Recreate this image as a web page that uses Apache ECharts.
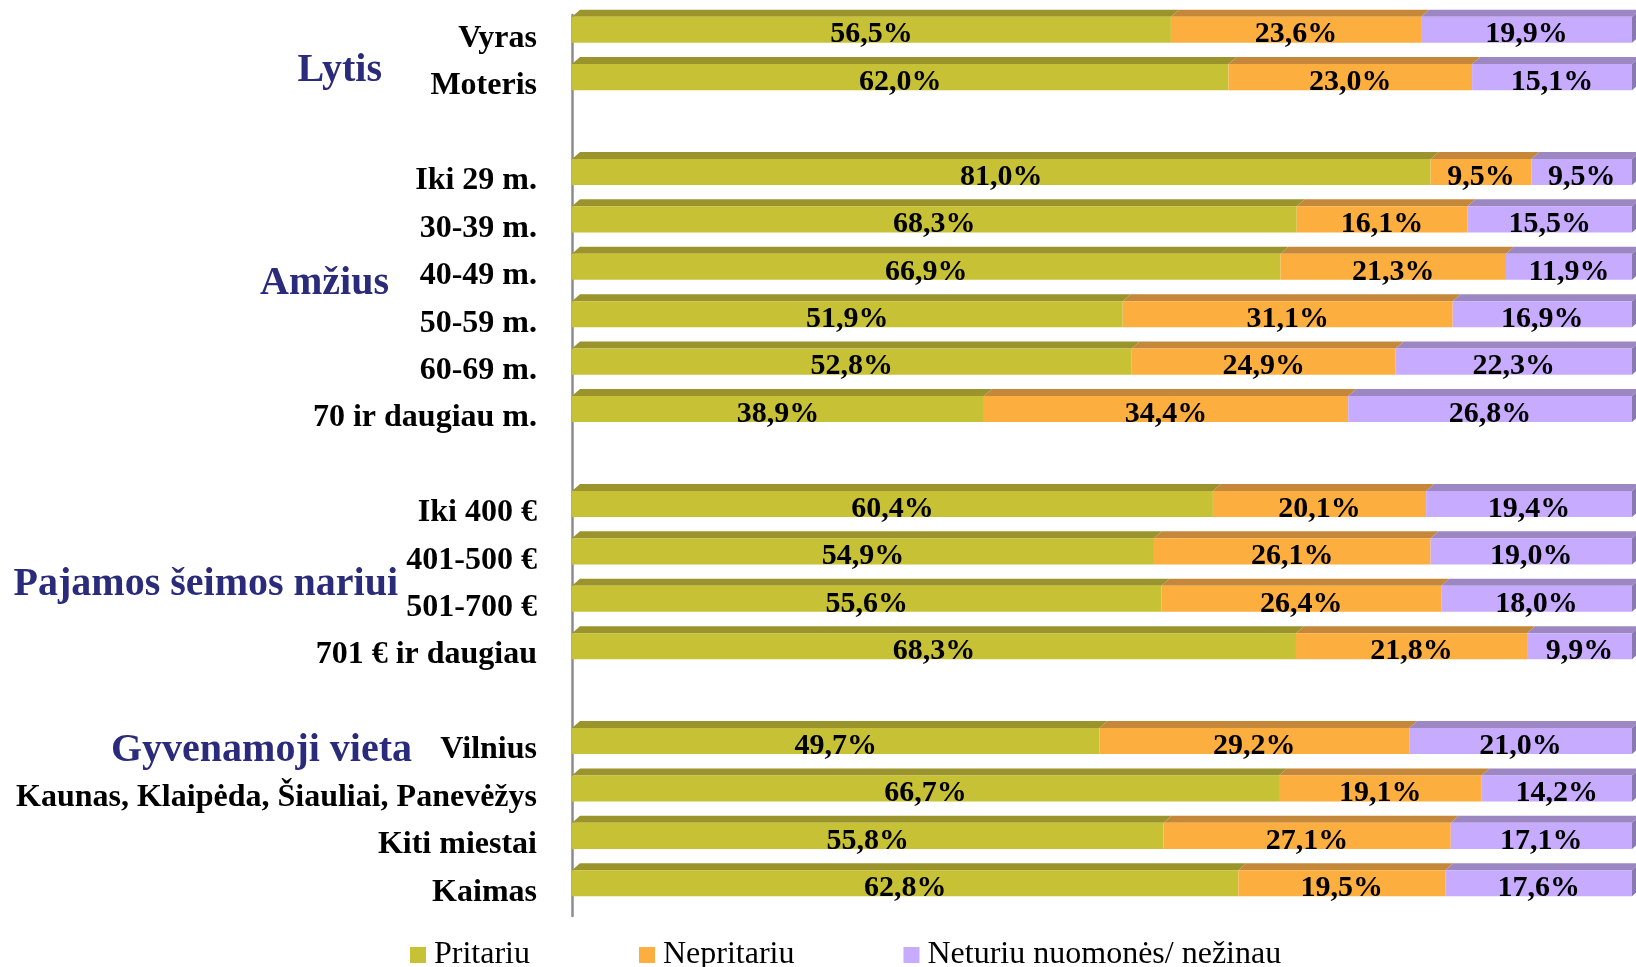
<!DOCTYPE html>
<html>
<head>
<meta charset="utf-8">
<script src="https://cdn.jsdelivr.net/npm/echarts@6/dist/echarts.min.js"></script>
<style>
  html, body { margin: 0; padding: 0; background: #fff; }
  #chart { width: 1636px; height: 967px; }
</style>
</head>
<body>
<div id="chart"></div>
<script>
'use strict';

// empty strings are the spacer rows between the groups
const categories = [
    'Vyras', 'Moteris', '',
    'Iki 29 m.', '30-39 m.', '40-49 m.', '50-59 m.', '60-69 m.', '70 ir daugiau m.', '',
    'Iki 400 €', '401-500 €', '501-700 €', '701 € ir daugiau', '',
    'Vilnius', 'Kaunas, Klaipėda, Šiauliai, Panevėžys', 'Kiti miestai', 'Kaimas',
];
const pritariu   = [56.5, 62.0, null, 81.0, 68.3, 66.9, 51.9, 52.8, 38.9, null, 60.4, 54.9, 55.6, 68.3, null, 49.7, 66.7, 55.8, 62.8];
const nepritariu = [23.6, 23.0, null,  9.5, 16.1, 21.3, 31.1, 24.9, 34.4, null, 20.1, 26.1, 26.4, 21.8, null, 29.2, 19.1, 27.1, 19.5];
const neturiu    = [19.9, 15.1, null,  9.5, 15.5, 11.9, 16.9, 22.3, 26.8, null, 19.4, 19.0, 18.0,  9.9, null, 21.0, 14.2, 17.1, 17.6];

const seriesNames = ['Pritariu', 'Nepritariu', 'Neturiu nuomonės/ nežinau'];
const groups = [
    { text: 'Lytis', x: 382, y: 71 },
    { text: 'Amžius', x: 389, y: 284 },
    { text: 'Pajamos šeimos nariui', x: 398, y: 585 },
    { text: 'Gyvenamoji vieta', x: 412, y: 751 },
];

const faces = [
    { front: '#c7c135', top: '#9b942c', side: '#8a8426' },
    { front: '#fcae3e', top: '#c5883a', side: '#b07a30' },
    { front: '#c7abfe', top: '#9c87c2', side: '#8a78b0' },
];
const DX = 8, DY = 7;
const LIFT = 9;   // bars sit a bit above the label line (3D floor)
const SERIF = '"Liberation Serif", "Times New Roman", serif';

const all = [pritariu, nepritariu, neturiu];

// 100% stacked: each row is scaled to its own total
function buildData(k) {
    const out = [];
    categories.forEach((c, i) => {
        if (all[k][i] == null) return;
        const total = all[0][i] + all[1][i] + all[2][i];
        let start = 0;
        for (let j = 0; j < k; j++) start += all[j][i];
        out.push([i, start / total * 100, (start + all[k][i]) / total * 100, all[k][i]]);
    });
    return out;
}

function fmt(v) {
    return v.toFixed(1).replace('.', ',') + '%';
}

function makeRender(k) {
    const c = faces[k];
    const last = k === all.length - 1;
    return function (params, api) {
        const cat = api.value(0);
        const p0 = api.coord([api.value(1), cat]);
        const p1 = api.coord([api.value(2), cat]);
        const h = api.size([0, 1])[1] * 0.55;
        const cy = p0[1] - LIFT;
        const y = cy - h / 2;
        const children = [{
            type: 'polygon',
            shape: { points: [[p0[0], y], [p1[0], y], [p1[0] + DX, y - DY], [p0[0] + DX, y - DY]] },
            style: { fill: c.top },
        }, {
            type: 'rect',
            shape: { x: p0[0], y: y, width: p1[0] - p0[0], height: h },
            style: { fill: c.front },
        }];
        if (last) {
            children.push({
                type: 'polygon',
                shape: { points: [[p1[0], y], [p1[0] + DX, y - DY], [p1[0] + DX, y - DY + h], [p1[0], y + h]] },
                style: { fill: c.side },
            });
        }
        children.push({
            type: 'text',
            style: {
                text: fmt(api.value(3)),
                x: (p0[0] + p1[0]) / 2,
                y: cy + 5,
                align: 'center',
                verticalAlign: 'middle',
                font: 'bold 30px ' + SERIF,
                fill: '#000',
            },
        });
        return { type: 'group', children: children };
    };
}

const chart = echarts.init(document.getElementById('chart'));

chart.setOption({
    animation: false,
    backgroundColor: '#fff',
    grid: { left: 572, right: 4, top: 15, height: 901 },
    xAxis: { type: 'value', min: 0, max: 100, show: false },
    yAxis: {
        type: 'category',
        data: categories,
        inverse: true,
        offset: 9,
        axisLine: { lineStyle: { color: '#8c8c8c', width: 2.5 } },
        axisTick: { show: false },
        splitLine: { show: false },
        axisLabel: {
            margin: 26,
            color: '#000',
            fontFamily: SERIF,
            fontWeight: 'bold',
            fontSize: 32,
        },
    },
    legend: {
        left: 405,
        top: 934,
        itemWidth: 16,
        itemHeight: 16,
        itemGap: 109,
        icon: 'rect',
        data: seriesNames,
        textStyle: { fontFamily: SERIF, fontSize: 32, color: '#000', padding: [0, 0, 0, 3] },
    },
    graphic: groups.map(g => ({
        type: 'text',
        x: g.x,
        y: g.y,
        style: {
            text: g.text,
            align: 'right',
            verticalAlign: 'middle',
            font: 'bold 40px ' + SERIF,
            fill: '#2a2b7a',
        },
    })),
    series: seriesNames.map((name, k) => ({
        name: name,
        type: 'custom',
        itemStyle: { color: faces[k].front },
        renderItem: makeRender(k),
        encode: { x: [1, 2], y: 0 },
        data: buildData(k),
    })),
});
</script>
</body>
</html>
